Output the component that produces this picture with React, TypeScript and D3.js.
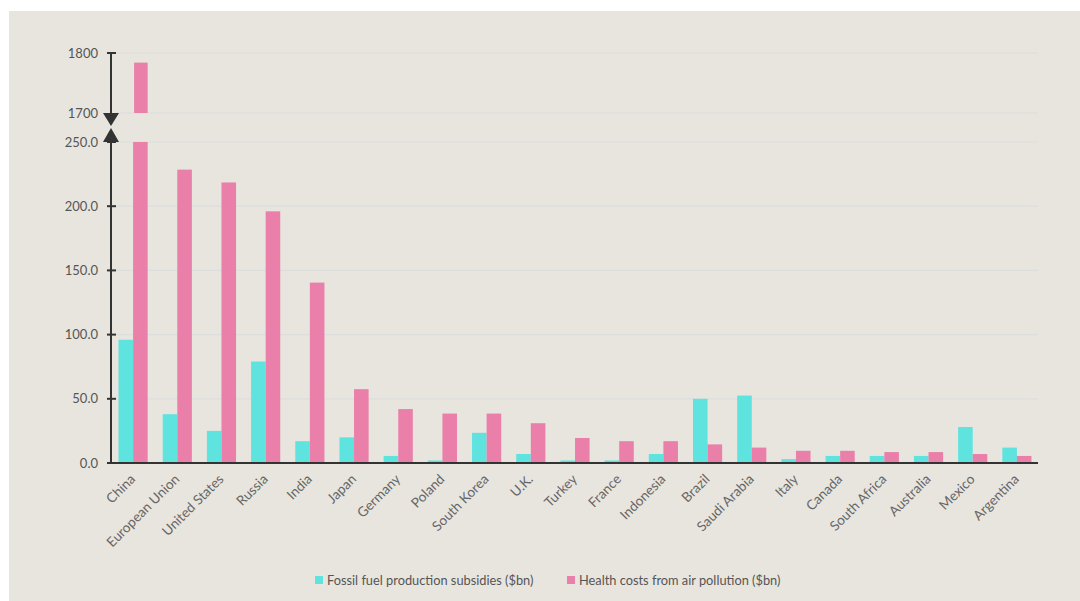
import React from "react";
import * as d3 from "d3";

const countries = ["China", "European Union", "United States", "Russia", "India", "Japan", "Germany", "Poland", "South Korea", "U.K.", "Turkey", "France", "Indonesia", "Brazil", "Saudi Arabia", "Italy", "Canada", "South Africa", "Australia", "Mexico", "Argentina"];
const fossil = [96, 38, 25, 79, 17, 20, 5.5, 2, 23.5, 7, 2, 2, 7, 50, 52.5, 3, 5.5, 5.5, 5.5, 28, 12];
const health = [1784, 228.5, 218.5, 196, 140.5, 57.5, 42, 38.5, 38.5, 31, 19.5, 17, 17, 14.5, 12, 9.5, 9.5, 8.5, 8.5, 7, 5.5];
const lowTicks = [0, 50, 100, 150, 200, 250];
const highTicks = [1700, 1800];
const seriesKeys = ["fossil", "health"];
const seriesLabels = ["Fossil fuel production subsidies ($bn)", "Health costs from air pollution ($bn)"];
const colors = ["#5ee3df", "#ea80aa"];

const W = 1080, H = 601;
const FONT = "Lato, 'Open Sans', sans-serif";

export default function App() {
  const x = d3.scaleBand<string>().domain(countries).range([111, 1039]).paddingInner(0.34).paddingOuter(0.17);
  const xs = d3.scaleBand<string>().domain(seriesKeys).range([0, x.bandwidth()]);
  const yLow = d3.scaleLinear().domain([0, 250]).range([463, 142]);
  const yHigh = d3.scaleLinear().domain([1700, 1800]).range([113, 53]);
  const axX = 111;
  const fmtLow = d3.format(".1f");
  const fmtHigh = d3.format("d");

  const bars: any[] = [];
  countries.forEach((c, i) => {
    const vals = [fossil[i], health[i]];
    vals.forEach((v, k) => {
      const bx = (x(c) as number) + (xs(seriesKeys[k]) as number);
      const bw = xs.bandwidth();
      if (v <= 250) {
        bars.push(<rect key={c + k} x={bx} y={yLow(v)} width={bw} height={yLow(0) - yLow(v)} fill={colors[k]} />);
      } else {
        bars.push(<rect key={c + k + "l"} x={bx} y={yLow(250)} width={bw} height={yLow(0) - yLow(250)} fill={colors[k]} />);
        bars.push(<rect key={c + k + "h"} x={bx + 1} y={yHigh(v)} width={bw - 1} height={yHigh(1700) - yHigh(v)} fill={colors[k]} />);
      }
    });
  });

  return (
    <svg width={W} height={H} style={{ position: "absolute", left: 0, top: 0, background: "#fff" }} fontFamily={FONT}>
      <rect x={9} y={11} width={W - 9} height={H - 11} fill="#e8e5df" />
      {lowTicks.map(t => (
        <line key={"g" + t} x1={axX + 5} x2={1038} y1={yLow(t)} y2={yLow(t)} stroke="#dcdedd" strokeWidth={1.2} />
      ))}
      {highTicks.map(t => (
        <line key={"gh" + t} x1={axX + 5} x2={1038} y1={yHigh(t)} y2={yHigh(t)} stroke="#dcdedd" strokeWidth={1.2} />
      ))}
      {bars}
      <line x1={axX} x2={axX} y1={yLow(0)} y2={yLow(250)} stroke="#333" strokeWidth={2} />
      <line x1={axX} x2={axX} y1={yHigh(1800)} y2={yHigh(1700)} stroke="#333" strokeWidth={2} />
      <path d={`M${axX - 8},${yHigh(1700)}L${axX + 8},${yHigh(1700)}L${axX},${yHigh(1700) + 13}Z`} fill="#333" />
      <path d={`M${axX - 8},${yLow(250)}L${axX + 8},${yLow(250)}L${axX},${yLow(250) - 14}Z`} fill="#333" />
      {lowTicks.map(t => (
        <g key={"t" + t}>
          <line x1={axX - 4} x2={axX + 5} y1={yLow(t)} y2={yLow(t)} stroke="#333" strokeWidth={2} />
          <text x={98} y={yLow(t)} dy="0.35em" textAnchor="end" fontSize={13} fill="#555">{fmtLow(t)}</text>
        </g>
      ))}
      {highTicks.map(t => (
        <g key={"th" + t}>
          {t === 1800 && <line x1={axX - 4} x2={axX + 5} y1={yHigh(t)} y2={yHigh(t)} stroke="#333" strokeWidth={2} />}
          <text x={98} y={yHigh(t)} dy="0.35em" textAnchor="end" fontSize={13} fill="#555">{fmtHigh(t)}</text>
        </g>
      ))}
      <line x1={axX - 1} x2={1038} y1={yLow(0)} y2={yLow(0)} stroke="#333" strokeWidth={2} />
      {countries.map(c => {
        const cx = (x(c) as number) + x.bandwidth() / 2 + 3;
        const cy = 480;
        return (
          <text key={"x" + c} x={cx} y={cy} transform={`rotate(-45,${cx},${cy})`} textAnchor="end" fontSize={13.6} fill="#666">{c}</text>
        );
      })}
      {seriesLabels.map((s, k) => {
        const lx = [315, 567][k];
        return (
          <g key={"l" + k}>
            <rect x={lx} y={576} width={8} height={8} fill={colors[k]} />
            <text x={lx + 12} y={584.5} fontSize={12.8} fill="#555">{s}</text>
          </g>
        );
      })}
    </svg>
  );
}
